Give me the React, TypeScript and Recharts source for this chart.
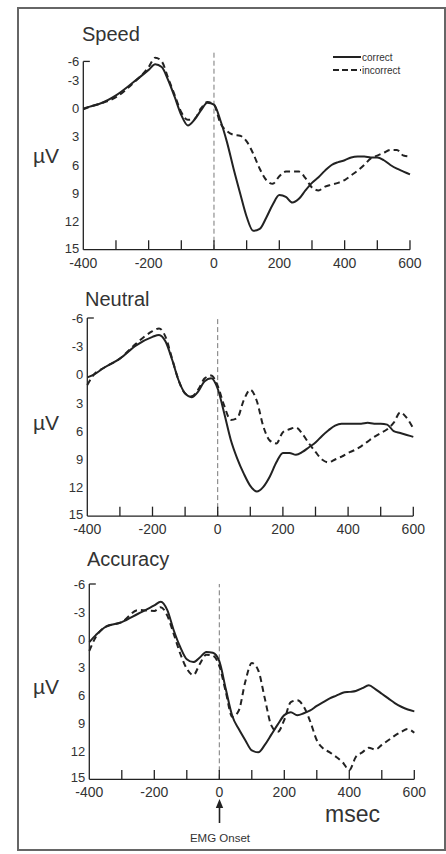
import React from "react";
import {
  LineChart,
  Line,
  XAxis,
  YAxis,
  ReferenceLine,
} from "recharts";

// sample times (ms relative to EMG onset)
const times = [
  -400, -380, -350, -300, -250, -200, -180, -160, -140, -120, -100, -80, -60, -40, -20, 0,
  20, 40, 60, 80, 100, 120, 140, 160, 180, 200, 220, 240, 260, 280, 300, 320, 340, 360,
  380, 400, 420, 440, 460, 480, 500, 520, 540, 560, 580, 600,
];

const speedCorrect = [
  0, -0.2, -0.5, -1.4, -2.7, -4.1, -4.7, -4.4, -3.0, -1.2, 0.7, 1.8, 1.2, 0.2, -0.6, -0.4,
  1.3, 3.6, 6.4, 9.0, 11.5, 13.0, 12.8, 11.6, 10.2, 9.2, 9.4, 10.0, 9.6, 8.7, 7.9, 7.3, 6.6, 6.0,
  5.7, 5.5, 5.2, 5.1, 5.1, 5.2, 5.2, 5.5, 6.0, 6.4, 6.7, 7.0,
];
const speedIncorrect = [
  0.1, -0.2, -0.5, -1.2, -2.6, -4.4, -5.4, -5.0, -3.2, -1.4, 0.4, 1.2, 1.1, 0, -0.7, -0.4,
  1.6, 2.4, 2.8, 2.9, 3.5, 4.8, 6.4, 7.6, 8.0, 7.2, 6.7, 6.7, 6.7, 7.4, 8.4, 8.7, 8.3, 8.1,
  7.9, 7.6, 7.1, 6.6, 6.0, 5.3, 5.0, 4.7, 4.4, 4.4, 5.0, 5.1,
];

const neutralCorrect = [
  0.3, 0, -0.7, -1.7, -3.1, -4.0, -4.2, -3.5, -1.6, 0.6, 2.0, 2.4, 1.8, 0.7, 0.4, 1.5,
  4.1, 6.9, 8.9, 10.5, 11.8, 12.4, 11.9, 10.8, 9.3, 8.3, 8.3, 8.5, 8.2, 7.7, 7.2, 6.5, 5.9, 5.4,
  5.2, 5.2, 5.2, 5.2, 5.1, 5.2, 5.2, 5.3, 6.0, 6.2, 6.4, 6.6,
];
const neutralIncorrect = [
  1.1, 0, -0.7, -1.7, -3.3, -4.6, -4.9, -4.0, -1.7, 0.6, 2.0, 2.3, 1.6, 0.4, 0.1, 1.2,
  3.3, 4.8, 4.6, 2.7, 1.6, 2.8, 5.5, 7.0, 7.3, 6.1, 5.8, 5.6, 6.3, 7.3, 8.2, 9.0, 9.3, 9.0,
  8.7, 8.3, 8.0, 7.6, 7.1, 6.6, 6.2, 5.8, 5.1, 4.0, 4.6, 5.7,
];

const accuracyCorrect = [
  0.25, -0.5, -1.4, -1.9, -2.8, -3.7, -4.1, -3.2, -1.0, 0.8, 2.1, 2.4, 1.9, 1.3, 1.4, 2.3,
  5.3, 8.2, 9.6, 10.8, 11.9, 12.1, 11.3, 10.2, 9.1, 8.1, 7.8, 8.1, 7.9, 7.6, 7.1, 6.7, 6.3, 6.0,
  5.7, 5.6, 5.5, 5.2, 4.9, 5.3, 5.8, 6.3, 6.8, 7.2, 7.5, 7.7,
];
const accuracyIncorrect = [
  1.2, -0.3, -1.4, -1.9, -3.2, -3.1, -3.5, -2.6, -0.6, 1.5, 3.1, 3.8, 2.6, 1.6, 1.7, 2.8,
  5.6, 8.3, 7.6, 4.5, 2.5, 3.3, 6.3, 9.2, 9.9, 8.6, 6.7, 6.5, 7.2, 8.8, 10.8, 11.7, 12.1, 12.6,
  13.2, 14.0, 12.6, 12.1, 11.6, 11.8, 11.3, 10.8, 10.3, 9.9, 9.6, 10.0,
];

const xLabels = [-400, -200, 0, 200, 400, 600];
const xTickMarks = [-300, -200, -100, 0, 100, 200, 300, 400, 500, 600];
const yLabels = [-6, -3, 0, 3, 6, 9, 12, 15];

const FONT = "'Liberation Sans', Arial, Helvetica, sans-serif";
const INK = "#222";
const TEXT = "#333";

const buildData = (correct: number[], incorrect: number[]) =>
  times.map((t, i) => ({ t, correct: correct[i], incorrect: incorrect[i] }));

interface PanelProps {
  data: any[];
  left: number;
  right: number;
  top: number;
  bottom: number;
  axisTop: number;
  topShift?: number;
}

const Panel = ({ data, left, right, top, bottom, axisTop, topShift = 0 }: PanelProps) => {
  const W = 440;
  const H = bottom - top + 40;

  // y labels; the "-6" label in the first panel sits a bit lower than the scale
  const YTick = ({ x, y, payload }: any) => (
    <text
      x={x}
      y={y + (payload.value === -6 ? topShift : payload.value === 15 ? -1.5 : 0)}
      dy="0.36em"
      textAnchor="end"
      fontSize={13}
      fill={TEXT}
      fontFamily={FONT}
    >
      {payload.value}
    </text>
  );

  return (
    <div style={{ position: "absolute", left: 0, top: top - 10 }}>
      <LineChart
        width={W}
        height={H}
        data={data}
        margin={{ top: 10, right: W - right, left: 0, bottom: 0 }}
      >
        <XAxis
          dataKey="t"
          type="number"
          domain={[-400, 600]}
          ticks={xLabels}
          axisLine={{ stroke: INK, strokeWidth: 1.3 }}
          tickLine={false}
          tickSize={6}
          tickMargin={2}
          height={30}
          tick={{ fontSize: 14, fill: TEXT, fontFamily: FONT }}
        />
        <YAxis
          type="number"
          domain={[-6, 15]}
          reversed
          ticks={yLabels}
          width={left}
          axisLine={false}
          tickLine={false}
          tickSize={0}
          tickMargin={4}
          tick={<YTick />}
        />
        <ReferenceLine x={0} stroke="#777" strokeDasharray="5 3" strokeWidth={1} />
        <ReferenceLine
          segment={[{ x: -400, y: axisTop }, { x: -400, y: 15 }]}
          stroke={INK}
          strokeWidth={1.3}
          ifOverflow="visible"
        />
        <ReferenceLine
          segment={[{ x: -400, y: axisTop }, { x: -380, y: axisTop }]}
          stroke={INK}
          strokeWidth={1.3}
          ifOverflow="visible"
        />
        {xTickMarks.map((t) => (
          <ReferenceLine
            key={t}
            segment={[{ x: t, y: 15 }, { x: t, y: 14 }]}
            stroke={INK}
            strokeWidth={1.3}
            ifOverflow="visible"
          />
        ))}
        <Line
          type="monotone"
          dataKey="incorrect"
          stroke={INK}
          strokeWidth={2}
          strokeDasharray="6 4"
          dot={false}
          isAnimationActive={false}
        />
        <Line
          type="monotone"
          dataKey="correct"
          stroke={INK}
          strokeWidth={2}
          dot={false}
          isAnimationActive={false}
        />
      </LineChart>
    </div>
  );
};

export default function App() {
  const label = { fontFamily: FONT, fill: TEXT } as const;
  return (
    <div style={{ position: "absolute", left: 0, top: 0, width: 446, height: 854, background: "#fff" }}>
      <div
        style={{
          position: "absolute",
          left: 17,
          top: 7,
          width: 425,
          height: 840,
          border: "2px solid #666",
        }}
      />
      <Panel
        data={buildData(speedCorrect, speedIncorrect)}
        left={83.3}
        right={410}
        top={51.8}
        bottom={249.5}
        axisTop={-5}
        topShift={9}
      />
      <Panel
        data={buildData(neutralCorrect, neutralIncorrect)}
        left={87.3}
        right={413.3}
        top={318.1}
        bottom={516.2}
        axisTop={-6}
      />
      <Panel
        data={buildData(accuracyCorrect, accuracyIncorrect)}
        left={89.3}
        right={414.3}
        top={583.7}
        bottom={779}
        axisTop={-6}
      />
      <svg
        width={446}
        height={854}
        style={{ position: "absolute", left: 0, top: 0, pointerEvents: "none" }}
      >
        <text x={82} y={41} fontSize={20} {...label}>Speed</text>
        <text x={85} y={306} fontSize={20} {...label}>Neutral</text>
        <text x={87} y={566} fontSize={20} {...label}>Accuracy</text>
        <text x={33} y={163} fontSize={21} {...label}>µV</text>
        <text x={33} y={430} fontSize={21} {...label}>µV</text>
        <text x={33} y={694} fontSize={21} {...label}>µV</text>
        {/* legend */}
        <line x1={333} y1={57} x2={361} y2={57} stroke={INK} strokeWidth={2} />
        <text x={362} y={60.5} fontSize={10} {...label}>correct</text>
        <line x1={333} y1={70} x2={361} y2={70} stroke={INK} strokeWidth={2} strokeDasharray="6 3" />
        <text x={362} y={73.5} fontSize={10} {...label}>incorrect</text>
        <text x={325} y={822} fontSize={23} {...label}>msec</text>
        <line x1={219.5} y1={806} x2={219.5} y2={823} stroke={INK} strokeWidth={1.6} />
        <polygon points="219.5,799 215.8,808 223.2,808" fill={INK} />
        <text x={220} y={842} fontSize={11.5} textAnchor="middle" {...label}>EMG Onset</text>
      </svg>
    </div>
  );
}
